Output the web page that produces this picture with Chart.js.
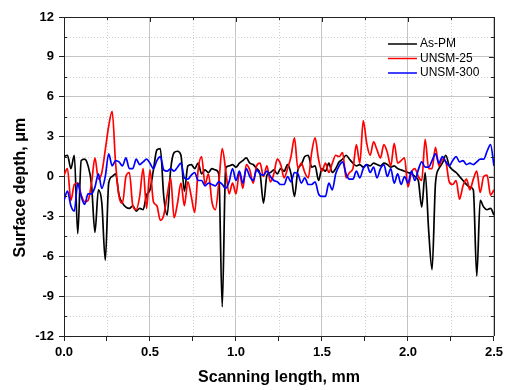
<!DOCTYPE html>
<html>
<head>
<meta charset="utf-8">
<script src="https://cdn.jsdelivr.net/npm/chart.js@4.4.1/dist/chart.umd.min.js"></script>
<style>
  html, body { margin: 0; padding: 0; background: #fff; }
  #wrap { width: 507px; height: 390px; }
</style>
</head>
<body>
<div id="wrap"><canvas id="chart"></canvas></div>
<script>
// Scanning positions (mm)
const xs = [
  0, 0.02, 0.04, 0.06, 0.08, 0.1, 0.12, 0.14, 0.16, 0.18, 0.2, 0.22, 0.24, 0.26, 0.28, 0.3, 0.32, 0.34, 0.36, 0.38, 0.4, 0.42, 0.44, 0.46, 0.48,
  0.5, 0.52, 0.54, 0.56, 0.58, 0.6, 0.62, 0.64, 0.66, 0.68, 0.7, 0.72, 0.74, 0.76, 0.78, 0.8, 0.82, 0.84, 0.86, 0.88, 0.9, 0.92, 0.94, 0.96, 0.98,
  1.0, 1.02, 1.04, 1.06, 1.08, 1.1, 1.12, 1.14, 1.16, 1.18, 1.2, 1.22, 1.24, 1.26, 1.28, 1.3, 1.32, 1.34, 1.36, 1.38, 1.4, 1.42, 1.44, 1.46, 1.48,
  1.5, 1.52, 1.54, 1.56, 1.58, 1.6, 1.62, 1.64, 1.66, 1.68, 1.7, 1.72, 1.74, 1.76, 1.78, 1.8, 1.82, 1.84, 1.86, 1.88, 1.9, 1.92, 1.94, 1.96, 1.98,
  2.0, 2.02, 2.04, 2.06, 2.08, 2.1, 2.12, 2.14, 2.16, 2.18, 2.2, 2.22, 2.24, 2.26, 2.28, 2.3, 2.32, 2.34, 2.36, 2.38, 2.4, 2.42, 2.44, 2.46, 2.48,
  2.5
];

// Surface depth (µm)
const asPM = [
  1.5, 1.6, 0.6, 1.6, -4.3, 1.2, 1.3, 0.8, -0.6, -4.2, -1.0, -2.0, -6.3, -0.5, 0.0, 0.2, -1.4, -2.0, -2.3, -2.4, -2.2, -2.6, -2.4, -2.5, -1.4,
  -1.0, 0.5, 2.0, 2.1, -1.5, -2.9, 0.5, 1.8, 1.9, 1.6, -1.1, 0.8, 0.9, 0.6, 1.0, 0.2, 0.5, 0.3, 0.6, 0.5, 0.2, -9.8, 0.6, 0.8, 0.9,
  0.7, 1.0, 1.2, 1.4, 1.0, 0.9, 0.6, 0.2, -2.0, 0.1, 0.3, 0.5, 0.2, 0.6, 0.4, 0.9, 0.2, -1.5, 0.5, 0.9, 1.5, 1.6, 0.7, 0.8, -0.3,
  0.6, 0.4, 1.0, 0.3, 0.6, 1.1, 1.3, 1.6, 1.3, 1.0, 0.8, 0.9, 0.7, 0.9, 0.8, 1.0, 0.9, 0.8, 1.0, 0.9, 0.7, 0.8, 0.6, 0.5, 0.4,
  0.3, 0.2, 0.0, -0.3, -2.3, 0.3, -4.0, -7.0, -0.5, 0.6, 1.0, 1.6, 0.8, 0.5, 0.3, 0.0, -0.3, -0.6, -0.8, -1.0, -7.5, -1.8, -2.3, -2.5, -2.4,
  -2.9
];

const unsm25 = [
  0.1, 0.6, -1.8, -0.6, -0.5, -1.4, -1.9, -1.8, -0.5, 1.4, -0.2, 0.3, 2.0, 3.8, 4.9, 1.0, -1.5, -2.0, 0.0, 0.3, -2.2, -2.5, -1.5, 0.6, -2.4,
  0.5, -1.9, -2.2, -3.3, -2.9, -1.4, -0.1, -3.1, -2.0, -0.5, -2.2, -0.4, -1.5, -2.7, 0.5, 1.5, -0.6, 0.2, -1.9, -2.5, -0.5, 2.1, 0.5, -1.3, -0.5,
  -1.3, 0.3, -0.9, 0.9, 0.5, -0.5, 0.8, 1.0, 0.0, 0.8, -0.4, 0.2, 1.3, 0.9, -0.1, 0.6, 1.5, 2.9, 0.6, 1.0, 0.3, -0.1, 1.8, 2.9, 1.3,
  0.4, 1.0, 0.3, 1.0, 1.6, 1.5, 1.8, -0.1, 0.3, 0.6, 2.4, 1.0, 4.2, 2.5, 1.6, 2.6, 2.0, 1.4, 2.4, 1.8, 0.8, 2.5, 1.0, 1.2, 1.4,
  -0.8, 0.3, 0.6, 0.0, -0.3, 2.8, 0.6, 0.6, 2.2, 0.8, 1.3, 1.1, -0.4, -0.6, -0.3, -1.7, -0.7, -0.2, -1.0, -0.2, 0.4, -1.2, 0.0, 0.1, -1.4,
  -1.0
];

const unsm300 = [
  -1.8, -1.1, -2.2, -2.6, -0.5, -1.5, -2.1, -1.3, -1.3, -0.8, 0.2, -0.9, 0.0, 1.7, 0.8, 1.2, 1.1, 0.8, 1.4, 0.6, 0.6, 1.3, 0.9, 1.1, 1.3,
  1.0, 0.6, 1.2, 1.5, 0.5, 0.4, 0.6, 0.4, 0.7, 1.0, -0.1, -0.2, 0.1, 0.3, -0.3, -0.3, -0.7, -0.5, -0.6, -0.7, -0.4, -0.6, -0.9, -0.4, 0.6,
  -0.3, 0.4, -0.5, 0.6, 0.0, -0.3, 0.5, 0.2, 0.1, 0.4, 0.0, -0.3, -0.4, -0.6, -0.6, 0.0, -0.4, 0.3, 0.2, -0.5, -0.1, -0.6, -0.6, -0.4, -1.3,
  -1.5, -1.5, -0.5, -1.0, 0.2, 0.8, 1.1, 0.2, -0.2, -0.2, 0.4, -0.1, 0.6, 0.9, 0.3, 0.7, -0.1, 0.6, 0.9, 0.0, 0.6, -0.5, 0.2, -0.6, 0.0,
  -0.5, 0.4, -0.3, 0.5, 1.1, 0.7, 0.7, 1.2, 1.7, 1.0, 1.5, 1.1, 0.8, 1.2, 1.5, 1.1, 1.2, 0.9, 1.0, 0.9, 1.1, 1.3, 1.3, 1.9, 2.4,
  0.8
];

const seriesNames = ['As-PM', 'UNSM-25', 'UNSM-300'];
const seriesColors = ['#000000', '#ff0000', '#0000ff'];

const FONT = "'Liberation Sans', Arial, Helvetica, sans-serif";
const isMajor = (v, step) => Math.abs(v / step - Math.round(v / step)) < 1e-6;

// minor dotted grid, frame and inner ticks
const framePlugin = {
  id: 'frame',
  beforeDatasetsDraw(chart) {
    const { ctx, chartArea: a, scales: { x, y } } = chart;
    ctx.save();
    ctx.strokeStyle = '#cfcfcf';
    ctx.lineWidth = 1;
    ctx.setLineDash([1, 2]);
    x.ticks.forEach(t => {
      if (isMajor(t.value, 0.5)) return;
      const px = Math.round(x.getPixelForValue(t.value)) + 0.5;
      ctx.beginPath(); ctx.moveTo(px, a.top); ctx.lineTo(px, a.bottom); ctx.stroke();
    });
    y.ticks.forEach(t => {
      if (isMajor(t.value, 3)) return;
      const py = Math.round(y.getPixelForValue(t.value)) + 0.5;
      ctx.beginPath(); ctx.moveTo(a.left, py); ctx.lineTo(a.right, py); ctx.stroke();
    });
    ctx.restore();
  },
  afterDraw(chart) {
    const { ctx, chartArea: a, scales: { x, y } } = chart;
    ctx.save();
    ctx.strokeStyle = '#222';
    ctx.lineWidth = 1;
    ctx.beginPath();
    ctx.moveTo(a.left, Math.round(a.top) + 0.5);
    ctx.lineTo(Math.round(a.right) + 0.5, Math.round(a.top) + 0.5);
    ctx.lineTo(Math.round(a.right) + 0.5, a.bottom);
    ctx.stroke();
    y.ticks.forEach(t => {
      const py = Math.round(y.getPixelForValue(t.value)) + 0.5;
      const len = isMajor(t.value, 3) ? 5 : 3;
      ctx.beginPath();
      ctx.moveTo(a.right, py); ctx.lineTo(a.right - len, py);
      if (!isMajor(t.value, 3)) { ctx.moveTo(a.left, py); ctx.lineTo(a.left + 3, py); }
      ctx.stroke();
    });
    x.ticks.forEach(t => {
      const px = Math.round(x.getPixelForValue(t.value)) + 0.5;
      const len = isMajor(t.value, 0.5) ? 5 : 3;
      ctx.beginPath(); ctx.moveTo(px, a.top); ctx.lineTo(px, a.top + len); ctx.stroke();
    });
    ctx.restore();
  }
};

// legend inside the plot, top right
const legendPlugin = {
  id: 'innerLegend',
  afterDraw(chart) {
    const { ctx, chartArea: a } = chart;
    ctx.save();
    ctx.font = '12px ' + FONT;
    ctx.textBaseline = 'middle';
    chart.data.datasets.forEach((ds, i) => {
      const yy = a.top + 27 + i * 14.5;
      ctx.strokeStyle = ds.borderColor;
      ctx.lineWidth = 1.5;
      ctx.beginPath(); ctx.moveTo(a.right - 106, yy); ctx.lineTo(a.right - 77, yy); ctx.stroke();
      ctx.fillStyle = '#000';
      ctx.fillText(ds.label, a.right - 74, yy);
    });
    ctx.restore();
  }
};

const tickFont = { family: FONT, size: 13, weight: 'bold' };
const titleFont = { family: FONT, size: 16, weight: 'bold' };
const seriesData = [asPM, unsm25, unsm300];

new Chart(document.getElementById('chart'), {
  type: 'line',
  data: {
    datasets: seriesData.map((vals, k) => ({
      label: seriesNames[k],
      data: xs.map((x, i) => ({ x, y: vals[i] })),
      borderColor: seriesColors[k],
      backgroundColor: seriesColors[k],
      order: 3 - k
    }))
  },
  options: {
    responsive: true,
    maintainAspectRatio: false,
    animation: false,
    layout: { padding: { top: 17, right: 11, left: 0, bottom: 0 } },
    elements: {
      point: { radius: 0 },
      line: { borderWidth: 1.7, cubicInterpolationMode: 'monotone', borderJoinStyle: 'round' }
    },
    plugins: { legend: { display: false }, tooltip: { enabled: false } },
    scales: {
      x: {
        type: 'linear', min: 0, max: 2.5,
        ticks: {
          stepSize: 0.25, autoSkip: false, maxRotation: 0, padding: 4, color: '#000', font: tickFont,
          callback: v => isMajor(v, 0.5) ? v.toFixed(1) : ''
        },
        grid: {
          color: c => (c.tick && isMajor(c.tick.value, 0.5)) ? '#c4c4c4' : 'rgba(0,0,0,0)',
          tickColor: '#222', tickLength: 5
        },
        border: { color: '#222', width: 1 },
        title: { display: true, text: 'Scanning length, mm', color: '#000', font: titleFont, padding: { top: 0, bottom: 3 } },
        afterFit: s => { s.height = 54; }
      },
      y: {
        type: 'linear', min: -12, max: 12,
        ticks: {
          stepSize: 1.5, autoSkip: false, padding: 5, color: '#000', font: tickFont,
          callback: v => isMajor(v, 3) ? String(v) : ''
        },
        grid: {
          color: c => (c.tick && isMajor(c.tick.value, 3)) ? '#c4c4c4' : 'rgba(0,0,0,0)',
          tickColor: c => (c.tick && isMajor(c.tick.value, 3)) ? '#222' : 'rgba(0,0,0,0)',
          tickLength: 5
        },
        border: { color: '#222', width: 1 },
        // trailing spaces push the visible title a little below centre, as in the original
        title: { display: true, text: 'Surface depth, μm\u00a0\u00a0\u00a0\u00a0\u00a0', color: '#000', font: titleFont, padding: { top: 11, bottom: 0 } },
        afterFit: s => { s.width = 64; }
      }
    }
  },
  plugins: [framePlugin, legendPlugin]
});
</script>
</body>
</html>
